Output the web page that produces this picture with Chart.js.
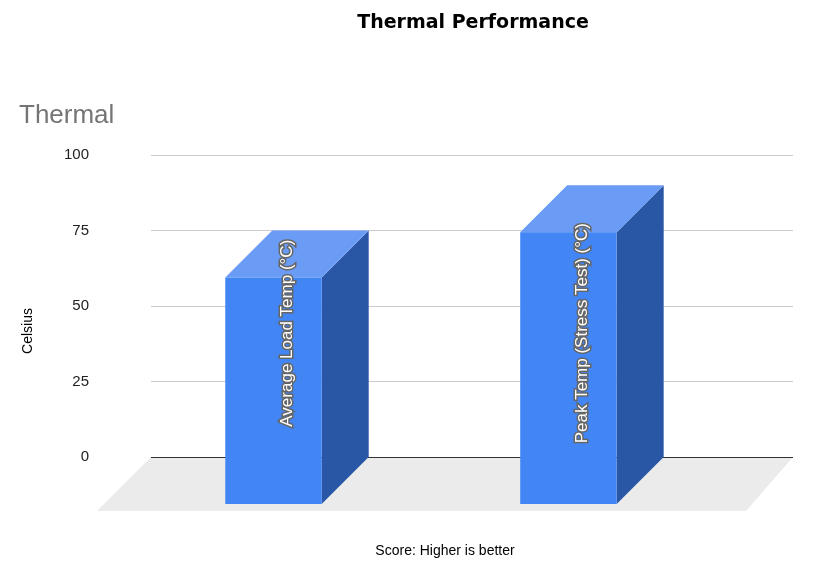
<!DOCTYPE html><html><head><script src="https://cdn.jsdelivr.net/npm/chart.js@4"></script>
<style>body{margin:0;background:#fff}#w{width:834px;height:567px}</style></head><body><div id="w"><canvas id="c"></canvas></div>
<script>
const categories=["Average Load Temp (°C)","Peak Temp (Stress Test) (°C)"];
const values=[75,90];
const yTicks=[0,25,50,75,100];
const D=47;
const plug={id:'p3d',
beforeDatasetsDraw(ch){const c=ch.ctx,a=ch.chartArea,y0=ch.scales.y.getPixelForValue(0);
 c.save();c.fillStyle='#ebebeb';c.beginPath();c.moveTo(a.left,y0);c.lineTo(a.right,y0);c.lineTo(a.right-D,y0+D+7);c.lineTo(a.left-D-7,y0+D+7);c.closePath();c.fill();
 c.strokeStyle='#333';c.lineWidth=1;c.beginPath();c.moveTo(a.left,y0+.5);c.lineTo(a.right,y0+.5);c.stroke();c.restore();},
afterDatasetsDraw(ch){const c=ch.ctx,y=ch.scales.y,y0=y.getPixelForValue(0);
 ch.getDatasetMeta(0).data.forEach((b,i)=>{const w=b.width,bx=b.x-w/2,by=b.y;
  const fx=bx-D,fy=by+D,fb=y0+D;
  c.save();
  c.fillStyle='#2a56a6';c.beginPath();c.moveTo(fx+w,fy);c.lineTo(bx+w,by);c.lineTo(bx+w,y0);c.lineTo(fx+w,fb);c.closePath();c.fill();
  c.fillStyle='#6a9cf5';c.beginPath();c.moveTo(fx,fy);c.lineTo(bx,by);c.lineTo(bx+w,by);c.lineTo(fx+w,fy);c.closePath();c.fill();
  c.fillStyle='#4285f4';c.fillRect(fx,fy,w,fb-fy);
  c.translate(fx+w/2+14,y.getPixelForValue(41));c.rotate(-Math.PI/2);c.font='17px Arial, "Liberation Sans"';c.textAlign='center';c.textBaseline='middle';
  c.lineWidth=3;c.strokeStyle='#666';c.strokeText(categories[i],0,0);c.fillStyle='#fff';c.fillText(categories[i],0,0);
  c.restore();});
 c.save();c.fillStyle='#000';c.textAlign='center';c.textBaseline='middle';
 c.font='bold 19px "DejaVu Sans"';c.fillText('Thermal Performance',473,23);
 c.font='14px Arial, "Liberation Sans"';c.fillText('Score: Higher is better',445,551);
 c.save();c.translate(28,331);c.rotate(-Math.PI/2);c.fillText('Celsius',0,0);c.restore();
 c.fillStyle='#757575';c.textAlign='left';c.font='26px Arial, "Liberation Sans"';c.fillText('Thermal',19,116);
 c.restore();}};
new Chart(document.getElementById('c'),{type:'bar',
data:{labels:categories,datasets:[{data:values.map((v,i)=>({x:i,y:v})),backgroundColor:'rgba(0,0,0,0)',barPercentage:0.654,categoryPercentage:1}]},
options:{responsive:true,maintainAspectRatio:false,animation:false,
layout:{padding:{top:155,left:0,right:41,bottom:110}},
plugins:{legend:{display:false},tooltip:{enabled:false}},
scales:{x:{type:'linear',display:false,min:-0.5746,max:1.602,offset:false},
y:{min:0,max:100,afterBuildTicks(s){s.ticks=yTicks.map(v=>({value:v}));},afterFit(s){s.width=151;},
border:{display:false},grid:{color:'#ccc',drawTicks:false},
ticks:{padding:62,color:'#222',font:{size:15,family:'Arial, "Liberation Sans"'}}}}},
plugins:[plug]});
</script></body></html>
